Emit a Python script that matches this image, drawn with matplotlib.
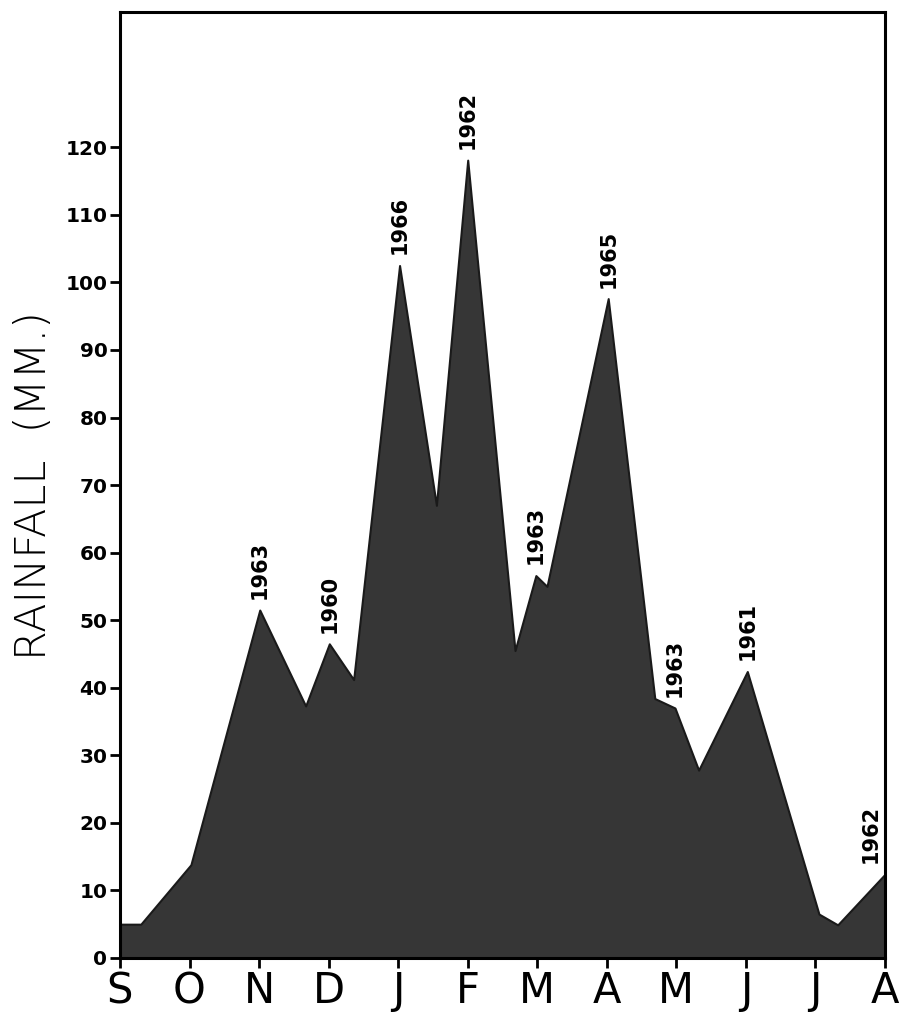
import matplotlib
matplotlib.use("Agg")
from matplotlib import pyplot as plt

# month ticks along the bottom (Sept -> Aug)
months = ['S', 'O', 'N', 'D', 'J', 'F', 'M', 'A', 'M', 'J', 'J', 'A']

# vertices of the rainfall outline, x in months from S
pos = [0.0, 0.30, 1.02, 2.01, 2.67, 3.01, 3.36, 4.02, 4.55, 5.00, 5.68,
       5.98, 6.14, 7.02, 7.69, 7.98, 8.32, 9.02, 10.05, 10.32, 11.0]
rain = [5.0, 5.0, 13.8, 51.5, 37.3, 46.5, 41.2, 102.5, 67.0, 118.1, 45.5,
        56.6, 55.0, 97.6, 38.4, 37.0, 27.8, 42.4, 6.5, 4.9, 12.4]

# year labels on the peaks
year_idx = [3, 5, 7, 9, 11, 13, 15, 17, 20]
years = ['1963', '1960', '1966', '1962', '1963', '1965', '1963', '1961', '1962']

yticks = list(range(0, 130, 10))

fig = plt.figure(figsize=(9.04, 10.15), dpi=100)
ax = fig.add_axes([0.1327, 0.0562, 0.979 - 0.1327, 0.988 - 0.0562])

ax.fill_between(pos, rain, 0, color='#363636', edgecolor='#1a1a1a', linewidth=1.5)

ax.set_xlim(0, 11)
ax.set_ylim(0, 140)

ax.set_xticks(range(len(months)))
ax.set_xticklabels(months, fontsize=30)
ax.set_yticks(yticks)
ax.set_yticklabels([str(t) for t in yticks], fontsize=14.5, fontweight='bold')

ax.tick_params(axis='both', direction='out', length=7, width=2, color='black')
ax.tick_params(axis='x', pad=2)
ax.tick_params(axis='y', pad=2)

for s in ax.spines.values():
    s.set_linewidth(2.2)

ax.set_ylabel('RAINFALL  (MM.)', fontsize=31, labelpad=8, fontweight='light')

for i, yr in zip(year_idx, years):
    dx = -10 if pos[i] >= 11 else 0
    ax.annotate(yr, (pos[i], rain[i]), xytext=(dx, 8), textcoords='offset points',
                rotation=90, ha='center', va='bottom', fontsize=15, fontweight='bold')

fig.savefig('out.png', dpi=100)
